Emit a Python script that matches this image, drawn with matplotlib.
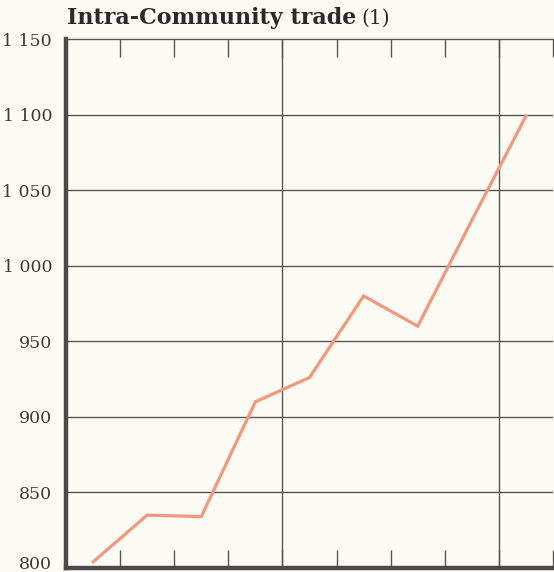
import numpy as np
import matplotlib.pyplot as plt
import matplotlib.transforms as mtransforms

# intra-community trade, one value per period
periods = [0.5, 1.5, 2.5, 3.5, 4.5, 5.5, 6.5, 7.5, 8.5]
trade = [804, 835, 834, 910, 926, 980, 960, 1030, 1099]
y_ticks = [800, 850, 900, 950, 1000, 1050, 1100, 1150]
y_labels = ['800', '850', '900', '950', '1 000', '1 050', '1 100', '1 150']
x_major = [4, 8]

bg = '#fdfcf4'
ink = '#4a4a4a'

fig = plt.figure(figsize=(5.54, 5.72), dpi=100, facecolor=bg)
ax = fig.add_axes([66 / 554, 4 / 572, 487 / 554, 529 / 572], facecolor=bg)

ax.plot(periods, trade, color='#f4977a', linewidth=2.3, solid_joinstyle='miter', zorder=3)

ax.set_xlim(0, 9)
ax.set_ylim(800, 1150)

# full grid lines
for yv in y_ticks[1:-1]:
    ax.axhline(yv, color='#555555', linewidth=1.0, zorder=1)
for xv in x_major:
    ax.axvline(xv, color='#555555', linewidth=1.0, zorder=1)

ax.set_xticks(range(1, 10))
ax.set_xticklabels([])
ax.tick_params(axis='x', direction='in', top=True, bottom=True, length=13,
               width=1.0, color='#555555')

ax.set_yticks(y_ticks)
ax.set_yticklabels(y_labels, fontfamily='DejaVu Serif', fontsize=12.5, color='#3a3a3a')
ax.tick_params(axis='y', length=0, pad=10)

# lowest label sits on the page edge, lift it a little so it isn't clipped
lbl = ax.get_yticklabels()[0]
lbl.set_transform(lbl.get_transform() + mtransforms.ScaledTranslation(0, 4 / 72, fig.dpi_scale_trans))

ax.spines['right'].set_visible(False)
ax.spines['left'].set_linewidth(3.2)
ax.spines['left'].set_color(ink)
ax.spines['bottom'].set_linewidth(3.2)
ax.spines['bottom'].set_color(ink)
ax.spines['top'].set_linewidth(1.0)
ax.spines['top'].set_color('#555555')

fig.text(67 / 554, 1 - 18 / 572, 'Intra-Community trade', fontfamily='DejaVu Serif',
         fontweight='bold', fontsize=16, color='#2a2a2a', va='center', ha='left')
fig.text(361 / 554, 1 - 18 / 572, '(1)', fontfamily='DejaVu Serif',
         fontsize=14.5, color='#2a2a2a', va='center', ha='left')

plt.savefig('out.png', dpi=100, facecolor=bg)
